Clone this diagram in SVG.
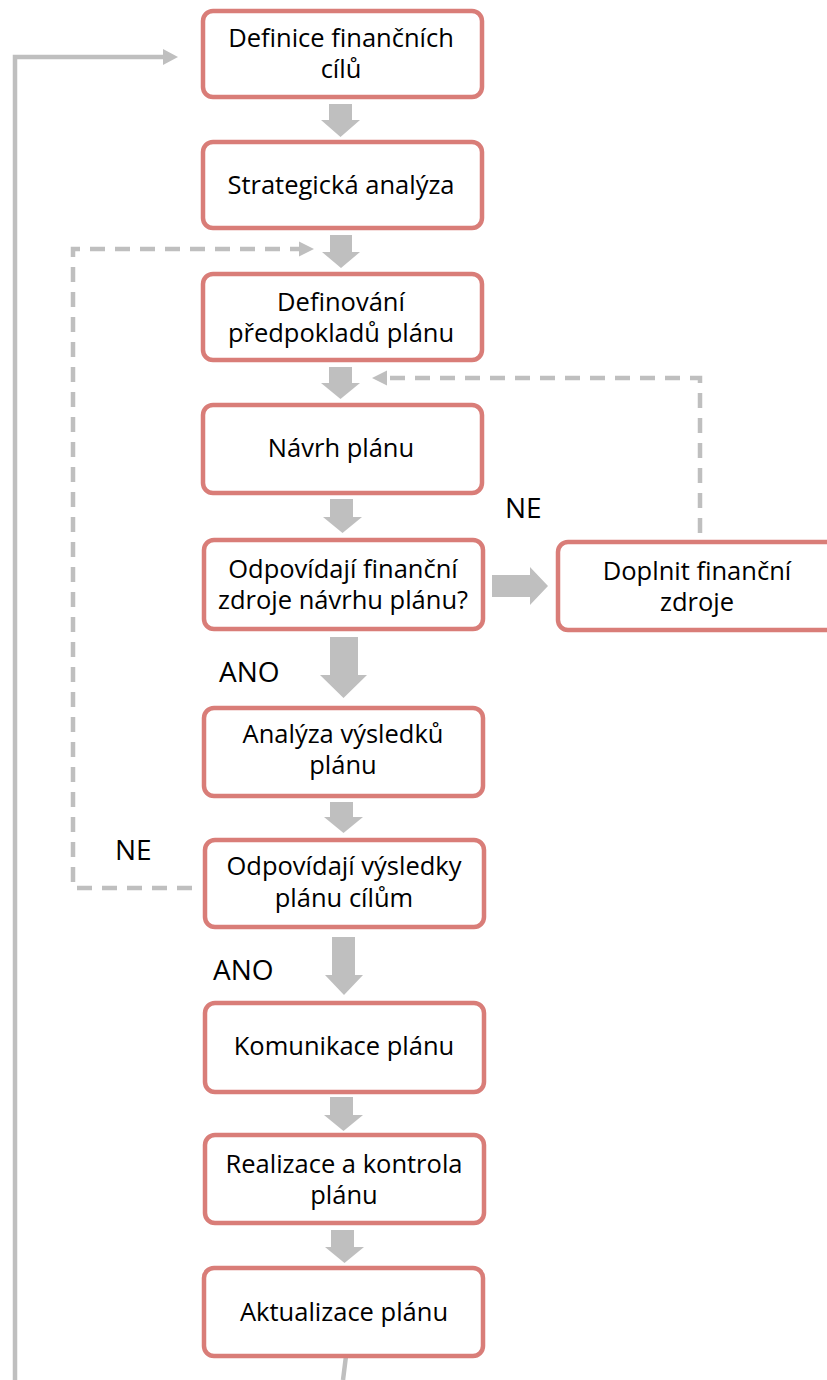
<svg xmlns="http://www.w3.org/2000/svg" width="827" height="1380" viewBox="0 0 827 1380">
<style>
.box{fill:#fff;stroke:#d97d78;stroke-width:4.5}
.t{font-family:"Open Sans","DejaVu Sans",sans-serif;font-size:25.5px;fill:#000;text-anchor:middle}
.lbl{font-family:"Open Sans","DejaVu Sans",sans-serif;font-size:28px;fill:#000}
.blk{fill:#bfbfbf}
.ln{fill:none;stroke:#bfbfbf;stroke-width:4.5}
.dash{fill:none;stroke:#bfbfbf;stroke-width:4.5;stroke-dasharray:15 10}
</style>
<g id="connectors">
<path class="ln" d="M15,1380 V57 H164"/>
<polygon class="blk" points="178,57 163,49 163,65"/>
<path class="ln" d="M346,1356 L343,1380"/>
<path class="dash" d="M192,888 H73 V249 H300"/>
<polygon class="blk" points="314,249 299,241.5 299,256.5"/>
<path class="dash" d="M700,533 V378 H386"/>
<polygon class="blk" points="372,378 387,370.5 387,385.5"/>
<polygon class="blk" points="329,104 352,104 352,120 360,120 340.5,137 321,120 329,120"/>
<polygon class="blk" points="330,235 352,235 352,252 360,252 341,268 322,252 330,252"/>
<polygon class="blk" points="329,367 352,367 352,383 360,383 340.5,399 321,383 329,383"/>
<polygon class="blk" points="330,499 353,499 353,517 362,517 342.5,533 323,517 330,517"/>
<polygon class="blk" points="330,637 358,637 358,675 367,675 343.5,698 320,675 330,675"/>
<polygon class="blk" points="492,575 530,575 530,567 548,586 530,605 530,597 492,597"/>
<polygon class="blk" points="330,802 353,802 353,817 363,817 343.5,833 324,817 330,817"/>
<polygon class="blk" points="332,937 355,937 355,975 363,975 344,995 325,975 332,975"/>
<polygon class="blk" points="330,1097 353,1097 353,1115 363,1115 343.5,1131 324,1115 330,1115"/>
<polygon class="blk" points="331,1230 354,1230 354,1247 364,1247 344.5,1263 325,1247 331,1247"/>
</g>
<g id="labels">
<text class="lbl" x="505" y="518">NE</text>
<text class="lbl" x="219" y="682">ANO</text>
<text class="lbl" x="115" y="860">NE</text>
<text class="lbl" x="213" y="980">ANO</text>
</g>
<g id="n1"><rect class="box" x="203" y="11" width="279" height="86" rx="10"/><text class="t" x="341" y="47">Definice finančních</text><text class="t" x="341" y="78">cílů</text></g>
<g id="n2"><rect class="box" x="203" y="142" width="279" height="86" rx="10"/><text class="t" x="341" y="194">Strategická analýza</text></g>
<g id="n3"><rect class="box" x="203" y="274" width="279" height="86" rx="10"/><text class="t" x="341" y="311">Definování</text><text class="t" x="341" y="342">předpokladů plánu</text></g>
<g id="n4"><rect class="box" x="203" y="405" width="279" height="88" rx="10"/><text class="t" x="341" y="457">Návrh plánu</text></g>
<g id="n5"><rect class="box" x="204" y="540" width="279" height="89" rx="10"/><text class="t" x="343" y="578">Odpovídají finanční</text><text class="t" x="343" y="609">zdroje návrhu plánu?</text></g>
<g id="n5b"><rect class="box" x="558" y="542" width="290" height="88" rx="10"/><text class="t" x="697" y="580">Doplnit finanční</text><text class="t" x="697" y="611">zdroje</text></g>
<g id="n6"><rect class="box" x="204" y="708" width="279" height="88" rx="10"/><text class="t" x="343" y="743">Analýza výsledků</text><text class="t" x="343" y="774">plánu</text></g>
<g id="n7"><rect class="box" x="205" y="840" width="279" height="87" rx="10"/><text class="t" x="344" y="875">Odpovídají výsledky</text><text class="t" x="344" y="907">plánu cílům</text></g>
<g id="n8"><rect class="box" x="205" y="1003" width="279" height="89" rx="10"/><text class="t" x="344" y="1055">Komunikace plánu</text></g>
<g id="n9"><rect class="box" x="205" y="1135" width="279" height="88" rx="10"/><text class="t" x="344" y="1173">Realizace a kontrola</text><text class="t" x="344" y="1204">plánu</text></g>
<g id="n10"><rect class="box" x="204" y="1268" width="279" height="88" rx="10"/><text class="t" x="344" y="1321">Aktualizace plánu</text></g>
</svg>
